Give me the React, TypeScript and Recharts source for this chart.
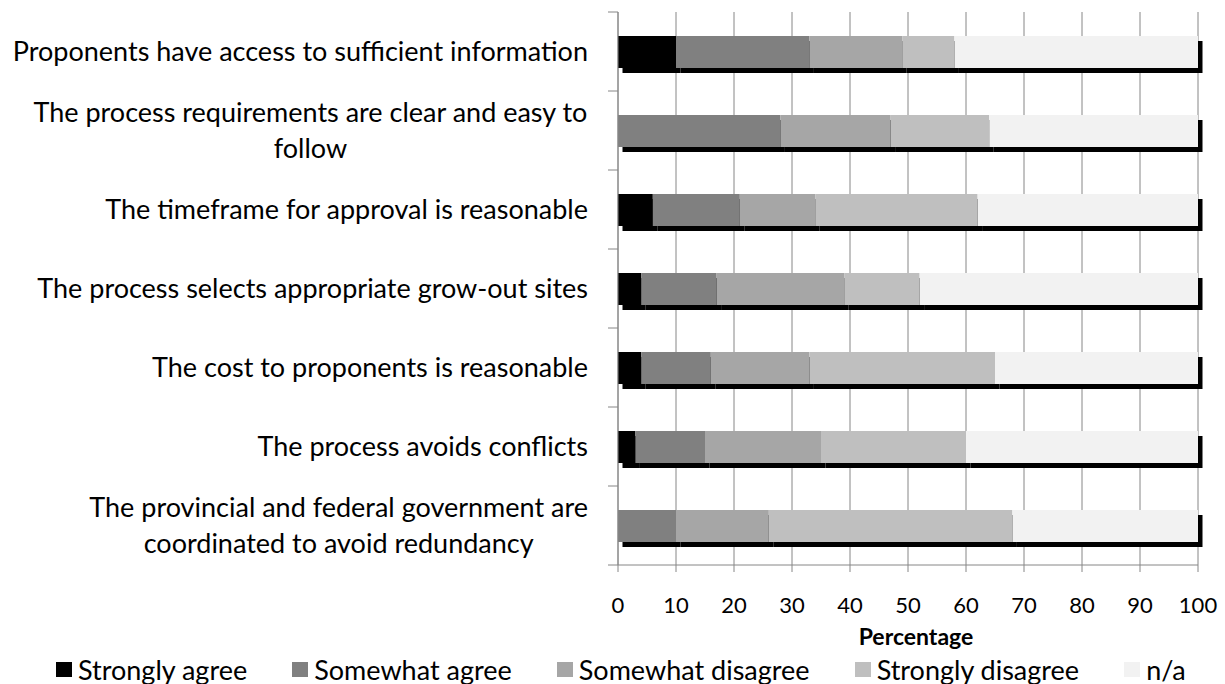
import React from "react";
import { Bar, BarChart, CartesianGrid, XAxis, YAxis } from "recharts";

const QUESTIONS = [
  "Proponents have access to sufficient information",
  "The process requirements are clear and easy to\nfollow",
  "The timeframe for approval is reasonable",
  "The process selects appropriate grow-out sites",
  "The cost to proponents is reasonable",
  "The process avoids conflicts",
  "The provincial and federal government are\ncoordinated to avoid redundancy",
];
const STRONGLY_AGREE = [10, 0, 6, 4, 4, 3, 0];
const SOMEWHAT_AGREE = [23, 28, 15, 13, 12, 12, 10];
const SOMEWHAT_DISAGREE = [16, 19, 13, 22, 17, 20, 16];
const STRONGLY_DISAGREE = [9, 17, 28, 13, 32, 25, 42];
const NOT_APPLICABLE = [42, 36, 38, 48, 35, 40, 32];
const X_TICKS = [0, 10, 20, 30, 40, 50, 60, 70, 80, 90, 100];

const SERIES = [
  { key: "sa", name: "Strongly agree", color: "#000000", values: STRONGLY_AGREE },
  { key: "swa", name: "Somewhat agree", color: "#808080", values: SOMEWHAT_AGREE },
  { key: "swd", name: "Somewhat disagree", color: "#a6a6a6", values: SOMEWHAT_DISAGREE },
  { key: "sd", name: "Strongly disagree", color: "#bfbfbf", values: STRONGLY_DISAGREE },
  { key: "na", name: "n/a", color: "#f2f2f2", values: NOT_APPLICABLE },
];

const data = QUESTIONS.map((q, i) => {
  const row: Record<string, string | number> = { q };
  SERIES.forEach((s) => (row[s.key] = s.values[i]));
  return row;
});

const FONT = "Lato, 'Open Sans', sans-serif";
const FS = 27; // category labels + legend
const TICK_FS = 22;
const W = 1225;
const H = 684;
const X_H = 30;
const M = { top: 12, right: 27, bottom: 119 - X_H, left: 0 };
const Y_W = 618;
const BAND = (H - M.top - 119) / QUESTIONS.length;
const AXIS = "#868686";

function measure(font: string, text: string) {
  const c = document.createElement("canvas").getContext("2d")!;
  c.font = font;
  return c.measureText(text).width;
}

// category label (centred block, right aligned) + tick marks on the band edges
function YTick(props: any) {
  const { y, payload, index } = props;
  const lines: string[] = String(payload.value).split("\n");
  const right = Y_W - 30;
  const maxW = Math.max(...lines.map((l) => measure(`${FS}px ${FONT}`, l)));
  const lh = 36;
  const top = y - ((lines.length - 1) * lh) / 2;
  return (
    <g>
      <line x1={Y_W - 10} x2={Y_W} y1={y - BAND / 2} y2={y - BAND / 2} stroke={AXIS} />
      {index === QUESTIONS.length - 1 && (
        <line x1={Y_W - 10} x2={Y_W} y1={y + BAND / 2} y2={y + BAND / 2} stroke={AXIS} />
      )}
      {lines.map((l, i) => (
        <text
          key={i}
          x={lines.length > 1 ? right - maxW / 2 : right}
          y={top + i * lh + FS * 0.36}
          textAnchor={lines.length > 1 ? "middle" : "end"}
          fontSize={FS}
          fontFamily={FONT}
          fill="#000"
        >
          {l}
        </text>
      ))}
    </g>
  );
}

// Excel-style offset shadow behind each segment
function ShadowBar(props: any) {
  const { x, y, width, height, fill } = props;
  if (!width || width <= 0) return null;
  return (
    <g>
      <rect x={x + 4.5} y={y + 5} width={width} height={height} fill="#000" />
      <rect x={x} y={y} width={width} height={height} fill={fill} />
    </g>
  );
}

function LegendRow() {
  return (
    <div
      style={{
        position: "absolute",
        left: 56,
        top: 653,
        height: 32,
        display: "flex",
        gap: 45,
        alignItems: "center",
        fontFamily: FONT,
        fontSize: FS,
        lineHeight: 1,
        whiteSpace: "nowrap",
      }}
    >
      {SERIES.map((s) => (
        <div key={s.key} style={{ display: "flex", alignItems: "center", gap: 6 }}>
          <span style={{ width: 16, height: 15, background: s.color, display: "inline-block" }} />
          <span>{s.name}</span>
        </div>
      ))}
    </div>
  );
}

export default function App() {
  return (
    <div style={{ position: "absolute", left: 0, top: 0, width: W, height: H, background: "#fff" }}>
      <BarChart width={W} height={H} data={data} layout="vertical" margin={M} barSize={32}>
        <CartesianGrid horizontal={false} stroke={AXIS} />
        <XAxis
          type="number"
          domain={[0, 100]}
          ticks={X_TICKS}
          interval={0}
          height={X_H}
          stroke={AXIS}
          tickSize={7}
          tickMargin={25}
          tick={{ fill: "#000", fontSize: TICK_FS, fontFamily: FONT }}
          label={(p: any) => {
            const vb = p.viewBox;
            return (
              <text x={vb.x + vb.width / 2 + 8} y={vb.y + 80} textAnchor="middle" fontSize={23} fontWeight="bold" fontFamily={FONT}>
                Percentage
              </text>
            );
          }}
        />
        <YAxis type="category" dataKey="q" width={Y_W} stroke={AXIS} tickLine={false} tick={<YTick />} interval={0} />
        {SERIES.map((s) => (
          <Bar key={s.key} dataKey={s.key} name={s.name} stackId="a" fill={s.color} shape={<ShadowBar />} isAnimationActive={false} />
        ))}
      </BarChart>
      <LegendRow />
    </div>
  );
}
